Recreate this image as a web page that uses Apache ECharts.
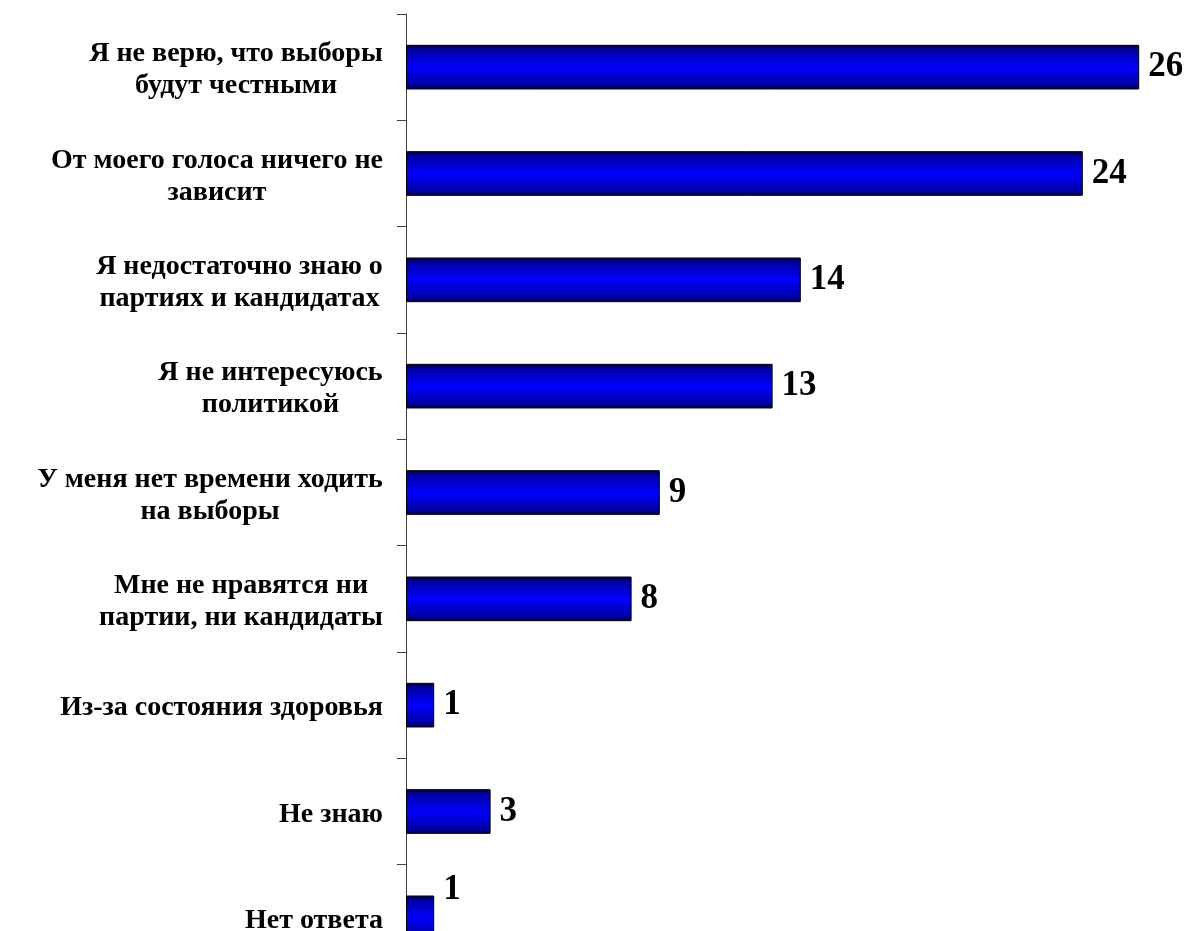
<!DOCTYPE html>
<html><head><meta charset="utf-8">
<script src="https://cdn.jsdelivr.net/npm/echarts@6/dist/echarts.min.js"></script>
<style>html,body{margin:0;padding:0;background:#fff}#c{width:1189px;height:931px}</style>
</head><body><div id="c"></div>
<script>
const categories = [
  'Я не верю, что выборы\nбудут честными',
  'От моего голоса ничего не\nзависит',
  'Я недостаточно знаю о\nпартиях и кандидатах',
  'Я не интересуюсь\nполитикой',
  'У меня нет времени ходить\nна выборы',
  'Мне не нравятся ни\nпартии, ни кандидаты',
  'Из-за состояния здоровья',
  'Не знаю',
  'Нет ответа'
];
const values = [26, 24, 14, 13, 9, 8, 1, 3, 1];

const labelFont = 'bold 28px "Liberation Serif"';
const ctx = document.createElement('canvas').getContext('2d');
ctx.font = labelFont;
const rich = {};
categories.forEach((c, i) => {
  const w = Math.max(...c.split('\n').map(l => ctx.measureText(l).width));
  rich['c' + i] = {width: Math.ceil(w) + 2, align: 'center', fontFamily: 'Liberation Serif', fontWeight: 'bold', fontSize: 28, lineHeight: 32, color: '#000'};
});

const barColor = new echarts.graphic.LinearGradient(0, 0, 0, 1, [
  {offset: 0, color: '#000040'},
  {offset: 0.12, color: '#0000a8'},
  {offset: 0.5, color: '#0000ff'},
  {offset: 0.88, color: '#0000a8'},
  {offset: 1, color: '#000040'}
]);

const data = values.map((v, i) => {
  const d = {value: v};
  if (i === values.length - 1) d.label = {offset: [0, -28]};
  return d;
});

const chart = echarts.init(document.getElementById('c'), null, {renderer: 'canvas'});
chart.setOption({
  animation: false,
  grid: {left: 406, top: 14, width: 846, height: 957, containLabel: false, outerBoundsMode: 'none'},
  xAxis: {type: 'value', min: 0, max: 30, show: false},
  yAxis: {
    type: 'category', data: categories, inverse: true,
    axisLine: {show: true, lineStyle: {color: '#404040', width: 1}},
    axisTick: {show: true, length: 9, lineStyle: {color: '#404040'}},
    axisLabel: {
      margin: 22, align: 'right', rich: rich, padding: [6, 0, 0, 0],
      formatter: (val, idx) => val.split('\n').map(l => '{c' + idx + '|' + l + '}').join('\n')
    }
  },
  series: [{
    type: 'bar', data: data, barCategoryGap: '58%',
    itemStyle: {color: barColor, borderColor: '#000', borderWidth: 1},
    label: {show: true, position: 'right', distance: 9, color: '#000',
      fontFamily: 'Liberation Serif', fontWeight: 'bold', fontSize: 35}
  }]
});
</script></body></html>
